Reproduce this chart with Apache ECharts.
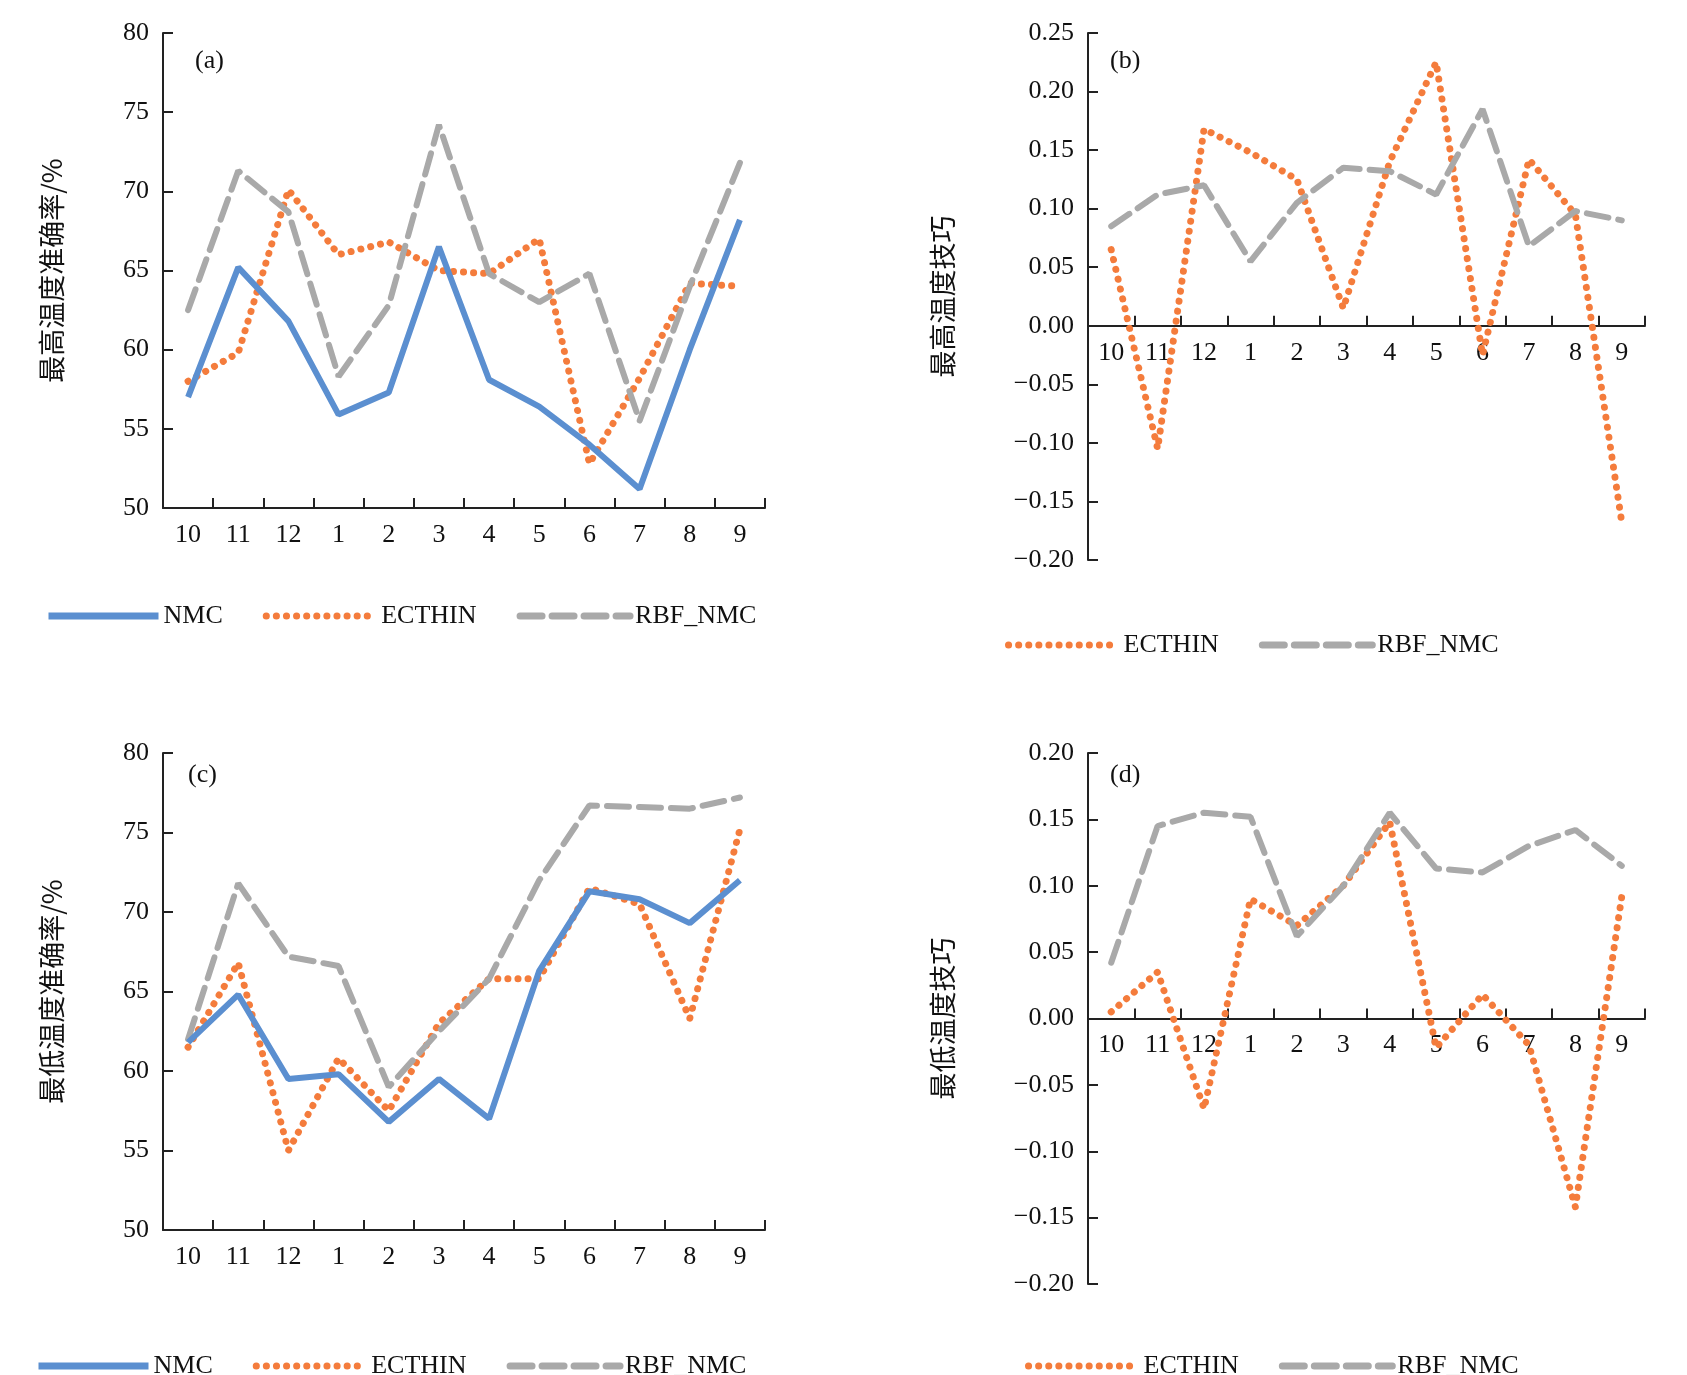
<!DOCTYPE html>
<html><head><meta charset="utf-8">
<script src="https://cdn.jsdelivr.net/npm/echarts@6/dist/echarts.min.js"></script>
<style>html,body{margin:0;background:#fff}#c{width:1687px;height:1375px}</style>
</head><body><div id="c"></div>
<script>
var months = ['10','11','12','1','2','3','4','5','6','7','8','9'];
// (a) 最高温度准确率
var aNMC = [57, 65.2, 61.8, 55.9, 57.3, 66.5, 58.1, 56.4, 54, 51.2, 60, 68.2];
var aEC = [58, 59.8, 70.1, 66, 66.8, 65, 64.8, 67, 52.8, 58.2, 64.2, 64];
var aRBF = [62.5, 71.3, 68.7, 58.3, 62.8, 74.2, 64.8, 63, 64.8, 55.5, 64, 71.8];
// (b) 最高温度技巧
var bEC = [0.065, -0.105, 0.168, 0.148, 0.125, 0.015, 0.14, 0.225, -0.025, 0.142, 0.095, -0.168];
var bRBF = [0.085, 0.112, 0.12, 0.055, 0.105, 0.135, 0.132, 0.112, 0.185, 0.068, 0.098, 0.09];
// (c) 最低温度准确率
var cNMC = [61.8, 64.8, 59.5, 59.8, 56.8, 59.5, 57, 66.3, 71.3, 70.8, 69.3, 72];
var cEC = [61.5, 66.8, 55, 60.8, 57.5, 63, 65.8, 65.8, 71.5, 70.5, 63.3, 75.2];
var cRBF = [62, 71.8, 67.2, 66.6, 59, 62.5, 65.8, 72, 76.7, 76.6, 76.5, 77.2];
// (d) 最低温度技巧
var dEC = [0.005, 0.035, -0.068, 0.09, 0.07, 0.1, 0.148, -0.022, 0.018, -0.02, -0.142, 0.092];
var dRBF = [0.042, 0.145, 0.155, 0.152, 0.062, 0.1, 0.155, 0.113, 0.11, 0.13, 0.142, 0.115];

var font = 'Liberation Serif';
var tc = '#111';
var grids = [
  {left: 163, top: 33, width: 602, height: 475},
  {left: 1088, top: 33, width: 557, height: 527},
  {left: 163, top: 753, width: 602, height: 477},
  {left: 1088, top: 753, width: 557, height: 531}
];
// labels of (b)/(d) sit just under the zero line
function xAx(i, margin) {
  return {gridIndex: i, type: 'category', data: months, boundaryGap: true,
    axisLine: {onZero: true, lineStyle: {color: '#222', width: 2}},
    axisTick: {show: true, inside: true, length: 10, lineStyle: {color: '#222', width: 2}},
    axisLabel: {color: tc, fontFamily: font, fontSize: 26, margin: margin, interval: 0}};
}
function yAx(i, min, max, step, name, dec) {
  return {gridIndex: i, type: 'value', min: min, max: max, interval: step,
    name: name, nameLocation: 'middle', nameRotate: 90, nameGap: dec ? 132 : 98,
    nameTextStyle: {color: tc, fontFamily: 'Noto Sans CJK SC', fontSize: 27},
    axisLine: {show: true, lineStyle: {color: '#222', width: 2}},
    axisTick: {show: true, inside: true, length: 10, lineStyle: {color: '#222', width: 2}},
    splitLine: {show: false},
    axisLabel: {color: tc, fontFamily: font, fontSize: 26, margin: 14,
      formatter: function (v) { return dec ? v.toFixed(2).replace('-', '−') : v; }}};
}
var styles = {
  NMC: {color: '#5b8fd0', width: 6, type: 'solid'},
  ECTHIN: {color: '#f47c3c', width: 7, type: [0.1, 10], cap: 'round'},
  RBF_NMC: {color: '#a9a9a9', width: 6, type: [22, 10], cap: 'round'}
};
function ser(name, data, i) {
  return {name: name, type: 'line', data: data, xAxisIndex: i, yAxisIndex: i,
    symbol: 'none', lineStyle: styles[name], itemStyle: {color: styles[name].color}, z: name === 'NMC' ? 3 : 2};
}
function leg(names, left, top) {
  return {data: names, left: left, top: top, itemWidth: 110, itemHeight: 14, itemGap: 40,
    itemStyle: {opacity: 0}, lineStyle: {width: 7},
    textStyle: {color: tc, fontFamily: font, fontSize: 26}};
}
var chart = echarts.init(document.getElementById('c'));
chart.setOption({
  animation: false,
  grid: grids,
  xAxis: [xAx(0, 14), xAx(1, -220), xAx(2, 14), xAx(3, -252)],
  yAxis: [
    yAx(0, 50, 80, 5, '最高温度准确率/%', false),
    yAx(1, -0.2, 0.25, 0.05, '最高温度技巧', true),
    yAx(2, 50, 80, 5, '最低温度准确率/%', false),
    yAx(3, -0.2, 0.2, 0.05, '最低温度技巧', true)
  ],
  legend: [
    leg(['NMC', 'ECTHIN', 'RBF_NMC'], 40, 598),
    leg(['ECTHIN', 'RBF_NMC'], 1000, 627),
    leg(['NMC', 'ECTHIN', 'RBF_NMC'], 30, 1348),
    leg(['ECTHIN', 'RBF_NMC'], 1020, 1348)
  ],
  graphic: [
    {type: 'text', left: 195, top: 48, style: {text: '(a)', font: '26px "Liberation Serif"', fill: tc}},
    {type: 'text', left: 1110, top: 48, style: {text: '(b)', font: '26px "Liberation Serif"', fill: tc}},
    {type: 'text', left: 188, top: 762, style: {text: '(c)', font: '26px "Liberation Serif"', fill: tc}},
    {type: 'text', left: 1110, top: 762, style: {text: '(d)', font: '26px "Liberation Serif"', fill: tc}}
  ],
  series: [
    ser('NMC', aNMC, 0), ser('ECTHIN', aEC, 0), ser('RBF_NMC', aRBF, 0),
    ser('ECTHIN', bEC, 1), ser('RBF_NMC', bRBF, 1),
    ser('NMC', cNMC, 2), ser('ECTHIN', cEC, 2), ser('RBF_NMC', cRBF, 2),
    ser('ECTHIN', dEC, 3), ser('RBF_NMC', dRBF, 3)
  ]
});
</script></body></html>
